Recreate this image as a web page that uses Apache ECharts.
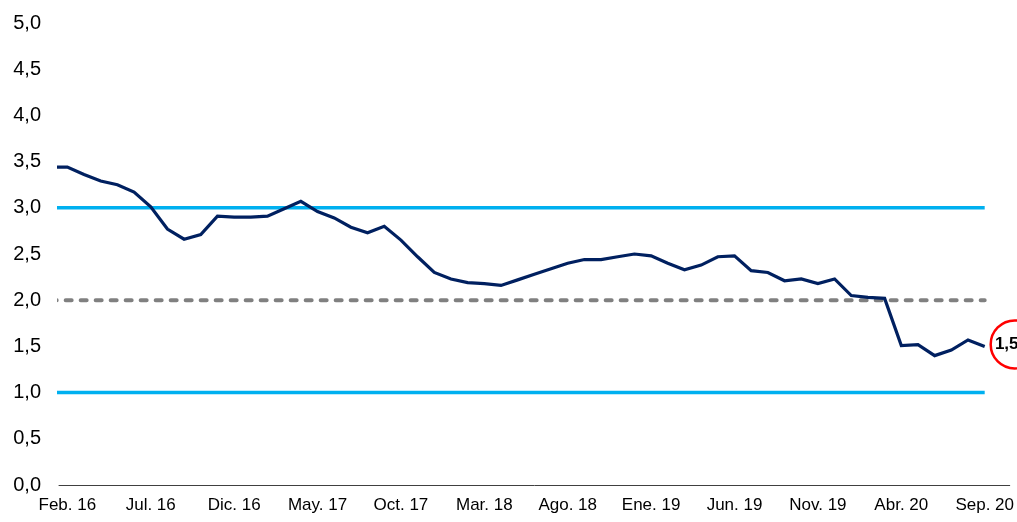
<!DOCTYPE html>
<html>
<head>
<meta charset="utf-8">
<script src="https://cdn.jsdelivr.net/npm/echarts@6/dist/echarts.min.js"></script>
<style>
  html, body { margin: 0; padding: 0; background: #ffffff; }
  #chart { width: 1017px; height: 522px; }
</style>
</head>
<body>
<div id="chart"></div>
<script>
// Months from Ene. 16 (only its tail is visible, clipped at the left edge) to Sep. 20
const months = [
  'Ene. 16','Feb. 16','Mar. 16','Abr. 16','May. 16','Jun. 16','Jul. 16','Ago. 16','Sep. 16','Oct. 16','Nov. 16','Dic. 16',
  'Ene. 17','Feb. 17','Mar. 17','Abr. 17','May. 17','Jun. 17','Jul. 17','Ago. 17','Sep. 17','Oct. 17','Nov. 17','Dic. 17',
  'Ene. 18','Feb. 18','Mar. 18','Abr. 18','May. 18','Jun. 18','Jul. 18','Ago. 18','Sep. 18','Oct. 18','Nov. 18','Dic. 18',
  'Ene. 19','Feb. 19','Mar. 19','Abr. 19','May. 19','Jun. 19','Jul. 19','Ago. 19','Sep. 19','Oct. 19','Nov. 19','Dic. 19',
  'Ene. 20','Feb. 20','Mar. 20','Abr. 20','May. 20','Jun. 20','Jul. 20','Ago. 20','Sep. 20'
];
const values = [
  3.44,
  3.44, 3.36, 3.29, 3.25, 3.17, 3.01, 2.77, 2.66, 2.71, 2.91, 2.90,
  2.90, 2.91, 2.99, 3.07, 2.96, 2.89, 2.79, 2.73, 2.80, 2.65, 2.47, 2.30,
  2.23, 2.19, 2.18, 2.16, 2.22, 2.28, 2.34, 2.40, 2.44, 2.44, 2.47, 2.50,
  2.48, 2.40, 2.33, 2.38, 2.47, 2.48, 2.32, 2.30, 2.21, 2.23, 2.18, 2.23,
  2.05, 2.03, 2.02, 1.51, 1.52, 1.40, 1.46, 1.57, 1.50
];
const tickMonths = ['Feb. 16','Jul. 16','Dic. 16','May. 17','Oct. 17','Mar. 18','Ago. 18','Ene. 19','Jun. 19','Nov. 19','Abr. 20','Sep. 20'];
const yTicks = [0, 0.5, 1, 1.5, 2, 2.5, 3, 3.5, 4, 4.5, 5];
const upperBand = 3.0;
const target = 2.0;
const lowerBand = 1.0;

const fmt = v => v.toFixed(1).replace('.', ',');
const lastIdx = values.length - 1;
const lineData = values.map((v, i) => [i, v]);
const flat = c => months.map((m, i) => [i, c]);
const labelIdx = tickMonths.map(m => months.indexOf(m));

const chart = echarts.init(document.getElementById('chart'), null, { renderer: 'canvas' });
chart.setOption({
  animation: false,
  backgroundColor: '#ffffff',
  textStyle: { fontFamily: 'Liberation Sans, Arial, sans-serif' },
  grid: { left: 59, right: 7, top: 23, bottom: 37, containLabel: false },
  xAxis: {
    type: 'value',
    min: 0.5,
    max: months.length + 0.5,
    splitLine: { show: false },
    axisTick: { show: false },
    axisLine: { show: true, onZero: false, lineStyle: { color: '#404040', width: 1 } },
    axisLabel: {
      customValues: labelIdx,
      formatter: v => months[Math.round(v)] || '',
      color: '#000000',
      fontSize: 17,
      margin: 12,
      fontFamily: 'Liberation Sans, Arial, sans-serif'
    }
  },
  yAxis: {
    type: 'value',
    min: yTicks[0],
    max: yTicks[yTicks.length - 1],
    interval: 0.5,
    splitLine: { show: false },
    axisTick: { show: false },
    axisLine: { show: false },
    axisLabel: {
      formatter: v => fmt(v),
      color: '#000000',
      fontSize: 20,
      margin: 18,
      fontFamily: 'Liberation Sans, Arial, sans-serif'
    }
  },
  series: [
    {
      type: 'line', data: flat(upperBand), symbol: 'none', silent: true,
      lineStyle: { color: '#00B0F0', width: 3.5 }, z: 2
    },
    {
      type: 'line', data: flat(lowerBand), symbol: 'none', silent: true,
      lineStyle: { color: '#00B0F0', width: 3.5 }, z: 2
    },
    {
      type: 'line', data: flat(target), symbol: 'none', silent: true,
      lineStyle: { color: '#808080', width: 4, type: [6, 9], cap: 'round' }, z: 2
    },
    {
      type: 'line', data: lineData, symbol: 'none',
      lineStyle: { color: '#002060', width: 3.2, join: 'miter' }, z: 5,
      markPoint: {
        symbol: 'circle',
        symbolSize: 48,
        symbolOffset: [30, -2],
        itemStyle: { color: '#ffffff', borderColor: '#FF0000', borderWidth: 2.5 },
        label: {
          show: true,
          position: 'inside',
          offset: [-8, 0],
          color: '#000000',
          fontWeight: 'bold',
          fontSize: 17,
          fontFamily: 'Liberation Sans, Arial, sans-serif',
          formatter: p => fmt(values[lastIdx])
        },
        data: [{ coord: [lastIdx, values[lastIdx]] }]
      }
    }
  ]
});
</script>
</body>
</html>
